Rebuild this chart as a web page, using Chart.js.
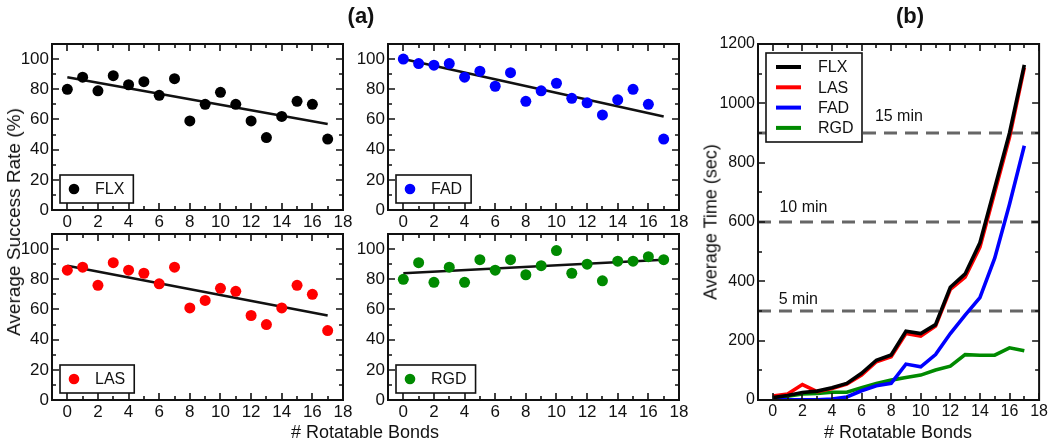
<!DOCTYPE html>
<html>
<head>
<meta charset="utf-8">
<script src="https://cdn.jsdelivr.net/npm/chart.js@4.4.0/dist/chart.umd.min.js"></script>
<style>
  body { margin: 0; background: #fff; }
  #wrap { position: relative; width: 1050px; height: 443px; overflow: hidden;
          font-family: 'Liberation Sans', Arial, sans-serif; color: #111; }
  #wrap canvas { position: absolute; left: 0; top: 0; }
  .lbl { position: absolute; white-space: nowrap; transform: translate(-50%, -50%); font-size: 18px; }
  .rot { transform: translate(-50%, -50%) rotate(-90deg); }
  .panel { font-weight: bold; font-size: 22px; }
</style>
</head>
<body>
<div id="wrap">
  <canvas id="cFLX" width="1050" height="443"></canvas>
  <canvas id="cFAD" width="1050" height="443"></canvas>
  <canvas id="cLAS" width="1050" height="443"></canvas>
  <canvas id="cRGD" width="1050" height="443"></canvas>
  <canvas id="cTime" width="1050" height="443"></canvas>
  <div class="lbl panel" style="left:361px;top:16px">(a)</div>
  <div class="lbl panel" style="left:910px;top:16px">(b)</div>
  <div class="lbl" style="left:365px;top:432px"># Rotatable Bonds</div>
  <div class="lbl" style="left:898px;top:432px"># Rotatable Bonds</div>
  <div class="lbl rot" style="left:14px;top:222px;font-size:19px">Average Success Rate (%)</div>
  <div class="lbl rot" style="left:711px;top:222px">Average Time (sec)</div>
</div>
<script>
const FONT = "'Liberation Sans', Arial, sans-serif";
Chart.defaults.font.family = FONT;
Chart.defaults.color = '#111';

// data
const bonds = [0, 1, 2, 3, 4, 5, 6, 7, 8, 9, 10, 11, 12, 13, 14, 15, 16, 17];
const flxRate = [80, 88, 79, 89, 83, 85, 76, 87, 59, 70, 78, 70, 59, 48, 62, 72, 70, 47];
const fadRate = [100, 97, 96, 97, 88, 92, 82, 91, 72, 79, 84, 74, 71, 63, 73, 80, 70, 47];
const lasRate = [86, 88, 76, 91, 86, 84, 77, 88, 61, 66, 74, 72, 56, 50, 61, 76, 70, 46];
const rgdRate = [80, 91, 78, 88, 78, 93, 86, 93, 83, 89, 99, 84, 90, 79, 92, 92, 95, 93];
const trendX = [0, 17];
const flxTrend = [88, 57];
const fadTrend = [100, 62];
const lasTrend = [89, 56];
const rgdTrend = [84, 93];

const flxTime = [8, 15, 25, 30, 41, 56, 90, 134, 152, 232, 224, 254, 380, 425, 530, 715, 900, 1130];
const lasTime = [13, 20, 52, 28, 39, 54, 84, 129, 146, 224, 215, 249, 373, 414, 515, 700, 885, 1120];
const fadTime = [1, 1, 1, 1, 3, 10, 31, 48, 56, 121, 112, 153, 224, 286, 345, 478, 660, 857];
const rgdTime = [8, 13, 20, 22, 26, 26, 41, 56, 67, 76, 84, 101, 114, 153, 151, 151, 176, 166];
const limitSec = [300, 600, 900];
const limitText = ['5 min', '10 min', '15 min'];

const pts = (xs, ys) => xs.map((x, i) => ({ x: x, y: ys[i] }));

// frame with inward ticks on all four sides
const framePlugin = {
  id: 'frame',
  afterDatasetsDraw(chart, args, o) {
    const { ctx, chartArea: a, scales: { x, y } } = chart;
    ctx.save();
    ctx.strokeStyle = '#111';
    ctx.lineWidth = 1.6;
    ctx.beginPath();
    for (let v = 0; v <= x.max; v += o.xMinor) {
      const p = Math.round(x.getPixelForValue(v));
      const len = v % o.xMajor === 0 ? 7 : 4;
      ctx.moveTo(p, a.bottom); ctx.lineTo(p, a.bottom - len);
      ctx.moveTo(p, a.top); ctx.lineTo(p, a.top + len);
    }
    for (let v = y.min; v <= y.max; v += o.yMinor) {
      const p = Math.round(y.getPixelForValue(v));
      const len = v % o.yMajor === 0 ? 7 : 4;
      ctx.moveTo(a.left, p); ctx.lineTo(a.left + len, p);
      ctx.moveTo(a.right, p); ctx.lineTo(a.right - len, p);
    }
    ctx.stroke();
    ctx.lineWidth = 2;
    ctx.strokeRect(a.left, a.top, a.right - a.left, a.bottom - a.top);
    ctx.restore();
  }
};

// legend boxes drawn inside the plot
const boxLegend = {
  id: 'boxLegend',
  afterDraw(chart, args, o) {
    const { ctx, chartArea: a } = chart;
    ctx.save();
    ctx.font = '16px ' + FONT;
    ctx.textBaseline = 'middle';
    if (o.mode === 'point') {
      const ds = chart.data.datasets[0];
      const x0 = a.left + 8, y0 = a.bottom - 35, h = 28;
      const w = 35 + ctx.measureText(ds.label).width + 9;
      ctx.fillStyle = '#fff'; ctx.fillRect(x0, y0, w, h);
      ctx.strokeStyle = '#111'; ctx.lineWidth = 1.6; ctx.strokeRect(x0, y0, w, h);
      ctx.fillStyle = ds.backgroundColor;
      ctx.beginPath(); ctx.arc(x0 + 14, y0 + h / 2, 5.3, 0, Math.PI * 2); ctx.fill();
      ctx.fillStyle = '#111'; ctx.fillText(ds.label, x0 + 35, y0 + h / 2 + 1);
    } else if (o.mode === 'line') {
      const items = chart.data.datasets.filter(d => !d.refLine);
      const x0 = a.left + 8, y0 = a.top + 9, w = 96, h = 89;
      ctx.fillStyle = '#fff'; ctx.fillRect(x0, y0, w, h);
      ctx.strokeStyle = '#111'; ctx.lineWidth = 1.6; ctx.strokeRect(x0, y0, w, h);
      items.forEach((d, i) => {
        const yy = y0 + 14 + i * 20.3;
        ctx.strokeStyle = d.borderColor; ctx.lineWidth = 4;
        ctx.beginPath(); ctx.moveTo(x0 + 10, yy); ctx.lineTo(x0 + 35, yy); ctx.stroke();
        ctx.fillStyle = '#111'; ctx.fillText(d.label, x0 + 52, yy + 1);
      });
      // reference line captions
      const { x, y } = chart.scales;
      o.captions.forEach(c => {
        ctx.fillStyle = '#111';
        ctx.fillText(c.text, x.getPixelForValue(c.x), y.getPixelForValue(c.y));
      });
    }
    ctx.restore();
  }
};

function makeScales(yMax, yStep, fontSize, yWidth) {
  const hidden = { display: true, ticks: { display: false }, grid: { display: false }, border: { display: false } };
  return {
    x: {
      type: 'linear', position: 'bottom', min: -1, max: 18,
      grid: { display: false, drawTicks: false }, border: { display: false },
      ticks: { stepSize: 2, includeBounds: false, autoSkip: false, maxRotation: 0, padding: 2,
               font: { size: fontSize }, callback: v => String(v) },
      afterFit: s => { s.height = 24; }
    },
    y: {
      type: 'linear', position: 'left', min: 0, max: yMax,
      grid: { display: false, drawTicks: false }, border: { display: false },
      ticks: { stepSize: yStep, includeBounds: false, autoSkip: false, padding: 3,
               font: { size: fontSize }, callback: v => String(v) },
      afterFit: s => { s.width = yWidth; }
    },
    xt: Object.assign({ type: 'linear', position: 'top', afterFit: s => { s.height = 12; } }, hidden),
    yr: Object.assign({ type: 'linear', position: 'right', afterFit: s => { s.width = 14; } }, hidden)
  };
}

function padFor(r, yWidth) {
  return { left: r.l - yWidth, top: r.t - 12, right: 1050 - r.r - 14, bottom: 443 - r.b - 24 };
}

function rateChart(id, name, color, values, trend, rect) {
  return new Chart(document.getElementById(id), {
    type: 'scatter',
    data: {
      datasets: [
        { label: name, data: pts(bonds, values), backgroundColor: color, borderColor: color,
          borderWidth: 0, pointRadius: 5.5, pointHoverRadius: 5.5 },
        { label: 'fit', data: pts(trendX, trend), showLine: true, borderColor: '#111',
          borderWidth: 2.5, pointRadius: 0, fill: false }
      ]
    },
    options: {
      responsive: false, animation: false, events: [],
      layout: { padding: padFor(rect, 45) },
      scales: makeScales(110, 20, 17, 45),
      plugins: { legend: { display: false }, tooltip: { enabled: false },
                 frame: { xMinor: 1, xMajor: 2, yMinor: 10, yMajor: 20 },
                 boxLegend: { mode: 'point' } }
    },
    plugins: [framePlugin, boxLegend]
  });
}

rateChart('cFLX', 'FLX', '#000000', flxRate, flxTrend, { l: 52, t: 44, r: 343, b: 210 });
rateChart('cFAD', 'FAD', '#0000ff', fadRate, fadTrend, { l: 388, t: 44, r: 679, b: 210 });
rateChart('cLAS', 'LAS', '#ff0000', lasRate, lasTrend, { l: 52, t: 234, r: 343, b: 400 });
rateChart('cRGD', 'RGD', '#008a00', rgdRate, rgdTrend, { l: 388, t: 234, r: 679, b: 400 });

// panel (b)
const series = [
  { label: 'FLX', color: '#000000', values: flxTime },
  { label: 'LAS', color: '#ff0000', values: lasTime },
  { label: 'FAD', color: '#0000ff', values: fadTime },
  { label: 'RGD', color: '#008a00', values: rgdTime }
];
const timeSets = series.map(s => ({
  label: s.label, data: pts(bonds, s.values), showLine: true, borderColor: s.color,
  backgroundColor: s.color, borderWidth: 3.6, pointRadius: 0, fill: false, tension: 0
}));
limitSec.forEach((v, i) => timeSets.push({
  label: limitText[i], refLine: true, data: pts([-1, 18], [v, v]), showLine: true,
  borderColor: '#666666', borderWidth: 3, borderDash: [13, 8], pointRadius: 0, fill: false
}));

new Chart(document.getElementById('cTime'), {
  type: 'scatter',
  data: { datasets: timeSets },
  options: {
    responsive: false, animation: false, events: [],
    layout: { padding: padFor({ l: 758, t: 44, r: 1040, b: 400 }, 45) },
    scales: makeScales(1200, 200, 16, 45),
    plugins: { legend: { display: false }, tooltip: { enabled: false },
               frame: { xMinor: 1, xMajor: 2, yMinor: 100, yMajor: 200 },
               boxLegend: { mode: 'line', captions: [
                 { text: limitText[2], x: 6.9, y: 955 },
                 { text: limitText[1], x: 0.45, y: 647 },
                 { text: limitText[0], x: 0.4, y: 340 }
               ] } }
  },
  plugins: [framePlugin, boxLegend]
});
</script>
</body>
</html>
